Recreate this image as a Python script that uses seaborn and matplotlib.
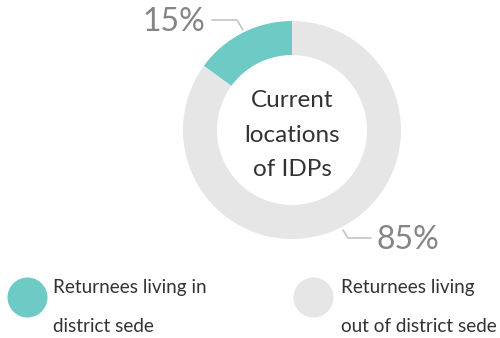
import matplotlib
matplotlib.use("Agg")
import matplotlib.pyplot as plt
import seaborn as sns

# Data
categories = ["Returnees living in\ndistrict sede", "Returnees living\nout of district sede"]
shares = [15, 85]
share_labels = ["15%", "85%"]
center_title = "Current\nlocations\nof IDPs"

sns.set_theme(style="white")
plt.rcParams["font.family"] = ["Lato", "DejaVu Sans"]

colors = ["#6ecac4", "#e6e6e6"]
label_color = "#858585"
line_color = "#c4c4c4"
text_color = "#333333"

W, H = 500, 338
fig = plt.figure(figsize=(W / 100, H / 100), dpi=100)
ax = fig.add_axes([0, 0, 1, 1])

def py(y):
    return H - y

cx, cy, r_out, ring = 292, 130, 109, 34
ax.pie(shares, colors=colors, startangle=90, counterclock=True,
       center=(cx, py(cy)), radius=r_out,
       wedgeprops=dict(width=ring, linewidth=0), frame=True)
ax.set_xlim(0, W)
ax.set_ylim(0, H)
ax.set_aspect("equal")
ax.axis("off")

ax.text(cx, py(cy + 5), center_title, ha="center", va="center",
        fontsize=17.5, color=text_color, linespacing=1.8)

# percentage labels with leader lines
ax.plot([212, 237, 243], [py(20), py(20), py(30)], color=line_color, lw=1.2)
ax.text(205, py(22), share_labels[0], ha="right", va="center",
        fontsize=23, color=label_color)
ax.plot([343, 348, 371], [py(230), py(238), py(238)], color=line_color, lw=1.2)
ax.text(377, py(240), share_labels[1], ha="left", va="center",
        fontsize=23, color=label_color)

# legend
for (x_dot, x_txt), lab, col in zip([(27, 53), (313, 341)], categories, colors):
    ax.scatter([x_dot], [py(297)], s=830, color=col, linewidths=0)
    l1, l2 = lab.split("\n")
    ax.text(x_txt, py(288), l1, ha="left", va="center", fontsize=13.6, color=text_color)
    ax.text(x_txt, py(327), l2, ha="left", va="center", fontsize=13.6, color=text_color)

fig.savefig("out.png", dpi=100)
